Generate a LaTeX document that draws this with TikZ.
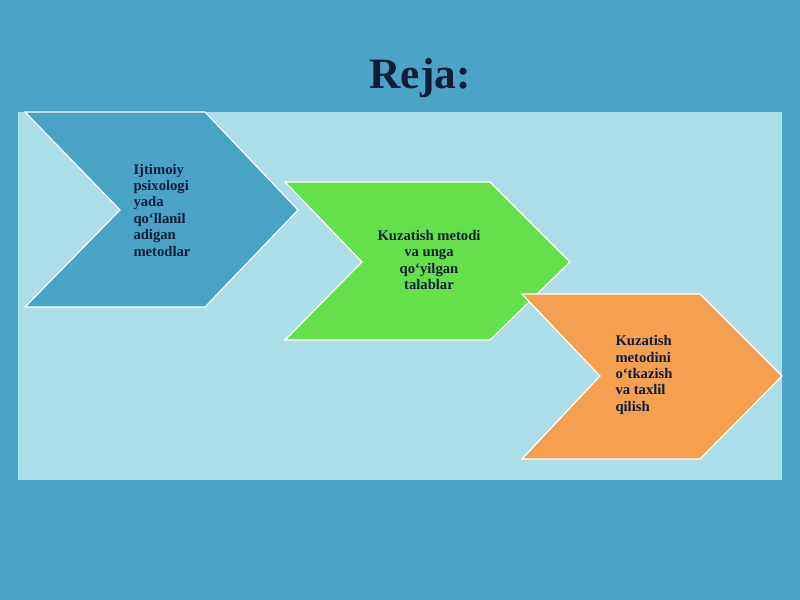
\documentclass[tikz,border=0pt]{standalone}
\usepackage{fontspec}
\setmainfont{Liberation Serif}
\definecolor{bg1}{RGB}{75, 163, 197}
\definecolor{panel1}{RGB}{172, 222, 234}
\definecolor{blue1}{RGB}{74, 163, 197}
\definecolor{green1}{RGB}{102, 224, 74}
\definecolor{orange1}{RGB}{245, 160, 80}
\definecolor{navy1}{RGB}{16, 28, 56}
\tikzset{
  chev/.style={draw=white, line width=1pt},
  lbl/.style={font=\bfseries\fontsize{12.5}{14}\selectfont, text=navy1, align=center}
}
\begin{document}
\begin{tikzpicture}[x=0.03cm, y=-0.03cm]
  \fill[bg1] (0,0) rectangle (800,600);
  \fill[panel1] (18,112) rectangle (782,480);
  \node[font=\bfseries\fontsize{37}{40}\selectfont, text=navy1] (title) at (420,78) {Reja:};
  \draw[chev, fill=blue1] (25,112) -- (205,112) -- (298,210) -- (205,307) -- (25,307) -- (120,210) -- cycle;
  \draw[chev, fill=green1] (285,182) -- (490,182) -- (570,262) -- (490,340) -- (285,340) -- (362,262) -- cycle;
  \draw[chev, fill=orange1] (522,294) -- (700,294) -- (782,376) -- (700,459) -- (522,459) -- (600,376) -- cycle;
  \node[lbl, align=left] (t1) at (162,210) {Ijtimoiy\\psixologi\\yada\\qo‘llanil\\adigan\\metodlar};
  \node[lbl] (t2) at (429,260) {Kuzatish metodi\\va unga\\qo‘yilgan\\talablar};
  \node[lbl, align=left] (t3) at (644,375) {Kuzatish\\metodini\\o‘tkazish\\va taxlil\\qilish};
\end{tikzpicture}
\end{document}
